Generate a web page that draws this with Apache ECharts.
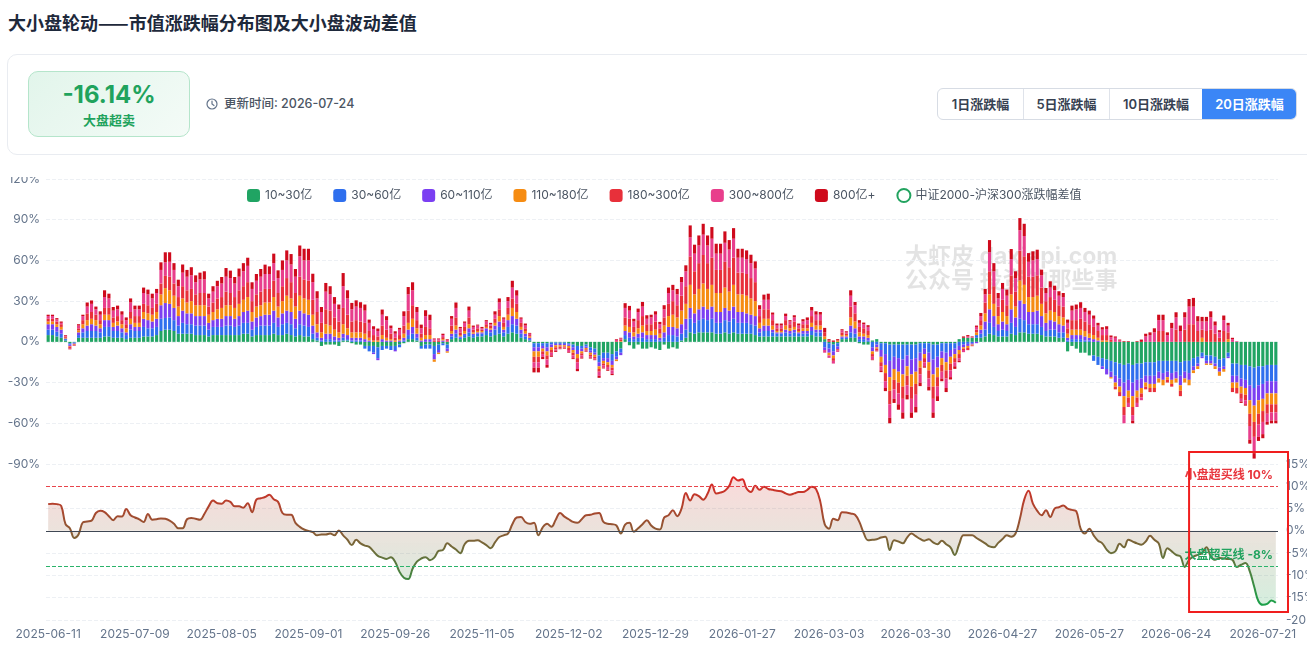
<!DOCTYPE html>
<html><head><meta charset="utf-8">
<script src="https://cdn.jsdelivr.net/npm/echarts@6/dist/echarts.min.js"></script>
<style>
html,body{margin:0;padding:0;background:#fff;width:1307px;height:650px;overflow:hidden;font-family:Inter,"Noto Sans CJK SC",sans-serif;}
.title{position:absolute;left:8px;top:10px;font-size:18px;font-weight:700;color:#1e293b;line-height:24px;font-family:"Noto Sans CJK SC",sans-serif;}
.card{position:absolute;left:7px;top:54px;width:1330px;height:101px;border:1px solid #e9ecf1;border-radius:10px;background:#fff;box-sizing:border-box;}
.badge{position:absolute;left:28px;top:71px;width:162px;height:66px;box-sizing:border-box;border:1px solid #b5e5cb;border-radius:10px;background:linear-gradient(135deg,#e2f5eb,#f4fbf7);text-align:center;}
.badge .v{font-size:24px;font-weight:700;color:#1fa35d;margin-top:9px;line-height:28px;}
.badge .t{font-size:13px;font-weight:700;color:#1fa35d;line-height:18px;margin-top:2px;font-family:"Noto Sans CJK SC",sans-serif;}
.upd{position:absolute;left:206px;top:95px;font-size:12.5px;color:#4b5563;line-height:18px;display:flex;align-items:center;font-weight:500;}
.upd svg{margin-right:6px;}
.btns{position:absolute;left:937px;top:88px;height:32px;display:flex;border:1px solid #d7dce4;border-radius:6px;overflow:hidden;box-sizing:border-box;}
.btn{height:30px;line-height:30px;text-align:center;font-size:13px;font-weight:600;color:#374151;border-left:1px solid #dfe3ea;box-sizing:border-box;font-family:Inter,"Noto Sans CJK SC",sans-serif;}
.btn:first-child{border-left:none;}
.btn.active{background:#3b86f6;color:#fff;border-left-color:#3b86f6;}
.wrap{position:absolute;left:0;top:177px;width:1307px;height:473px;overflow:hidden;}
#chart{position:absolute;left:0;top:-12px;width:1307px;height:485px;}
</style></head>
<body>
<div class="title">大小盘轮动——市值涨跌幅分布图及大小盘波动差值</div>
<div class="card"></div>
<div class="badge"><div class="v">-16.14%</div><div class="t">大盘超卖</div></div>
<div class="upd"><svg width="12" height="12" viewBox="0 0 12 12"><circle cx="6" cy="6" r="5" fill="none" stroke="#64748b" stroke-width="1.2"/><path d="M6 3v3l2 1.5" fill="none" stroke="#64748b" stroke-width="1.2" stroke-linecap="round"/></svg>更新时间: 2026-07-24</div>
<div class="btns"><div class="btn" style="width:85px">1日涨跌幅</div><div class="btn" style="width:86px">5日涨跌幅</div><div class="btn" style="width:93px">10日涨跌幅</div><div class="btn active" style="width:94px">20日涨跌幅</div></div>
<div class="wrap"><div id="chart"></div></div>
<script>
const tickDates = ['2025-06-11','2025-07-09','2025-08-05','2025-09-01','2025-09-26','2025-11-05','2025-12-02','2025-12-29','2026-01-27','2026-03-03','2026-03-30','2026-04-27','2026-05-27','2026-06-24','2026-07-21'];
const tailDates = ['2026-07-22','2026-07-23','2026-07-24'];
const seriesNames = ['10~30亿','30~60亿','60~110亿','110~180亿','180~300亿','300~800亿','800亿+'];
const seriesColors = ['#20a463','#2f6fee','#7b3ff2','#f68c12','#e8303a','#e83e8c','#cf0a1c'];
const lineName = '中证2000-沪深300涨跌幅差值';

const cap10_30 = [5,5,4,3,1,-1,-0.5,3,3,3,
3,3,3,4,4,3,3,3,2,3,
3,3,4,4,4,5,8,9,9,8,
6,6,6,6,5,5,5,4,5,5,
5,5,5,5,5,6,6,4,5,5,
5,5,6,5,5,6,5,4,5,4,
4,2,1,-3,-2,-2,-2,-3,1,1,
-1,-2,-2,-3,-3,-3,-4,-3,-3,-3,
-3,-2,-1,2,2,1,-3,-2,-2,-3,
-2,-1,-2,2,3,2,3,4,3,4,
4,5,4,5,6,4,6,7,6,3,
2,1,-1,-1,-1,-1,-0.5,-0.5,-0.5,-0.5,
-1,-2,-3,-3,-2,-4,-5,-10,-8,-8,
-9,-7,-5,2,-2.5,-5,-2,-5,-5,-4,
-5,-6,-2,-5,-4,-5,1,3,7,6,
7,7,7,7,6,6,7,6,7,6,
6,6,6,5,4,4,4,4,4,4,
4,4,4,4,4,4,5,4,4,2,
-1,-2,-1,2,2,3,3,-1,-2,-2,
1,2,-1,-1,-2,-2,-2,-2,-2,-2,
-2,-1,-1,-1,-2,-2,-1,-1,-1,-1,
2,3,3,3,3,3,4,6,5,4,
4,4,6,5,7,7,6,6,6,5,
4,4,4,3,3,-7,-3,-5,-8,-8,
-10,-10,-11,-12,-13,-14,-15,-16,-17,-16,
-17,-16,-16,-15,-15,-15,-14,-14,-14,-14,
-14,-15,-14,-14,-12,-11,-8,-10,-10,-11,
-13,-12,-8,-16,-16,-17,-17,-18,-19,-18,
-18,-17,-17,-17];

const cap30_60 = [4,4,3.5,3,1,-1,-0.5,2,4,5,
5,5,4,7,7,5,5,4,3,6,
5,5,7,6,6,6,9,8.6,9,8,
6,8,7,7,7,7,7,5,6,6,
6,7,7,6,7,8,8,5,6,7,
7,7,8,6,8,8,8,6,8,8,
7,4,2,1,2,2,1,1,2,1,
1,1,1,-2,-4,-5,-8,-3,-2,-3,
-3,-2,1,3,4,2,-2,-3,-3,-6,
-4,-1.5,-3,2,3,1,2,3,2,2,
2,3,3,4,5,3,5,6,6,3,
2,1,-3,-3,-2,-3,-1.5,-1,-1,-1,
-1,-2,-3,-2,-1.5,-2.5,-3,-5,-4,-4,
-5,-4,-3,3,3,2,3,3,2,2,
2,1,3,5,5,4,5,6,10,8,
9,10,9,10,8,8,9,9,10,8,
8,8,7,7,3,4,4,3,2,2,
3,2,3,2,2,2,3,3,3,-4,
-4,-5,-2.4,1,1,4,3,2,2,1,
-4,-2,-5,-8,-12,-9,-10,-11,-8,-11,
-10,-7,-4,-7,-11,-9,-6,-7,-5,-4,
-3,-2,-1.5,-1,2,3,5,8,6,4,
5,4,8,6,10,9,7,7,7,6,
4,5,5,4,4,1,2,2,2,1,
1,-4,-6,-6,-7,-8,-10,-11,-13,-12,
-13,-12,-11,-10,-10,-10,-8,-9,-8,-9,
-8,-10,-8,-9,-6,-5,-3,-4,-4,-5,
-6,-6,-3,-9,-9,-10,-11,-14,-15,-14,
-13,-12,-12,-12];

const cap60_110 = [4,4,3.5,3,0.5,-1,-0.5,2,3,4,
5,4,3,5,5,3,4,3,2,4,
3,3,6,6,5,6,10,11,10,9,
7,9,8,8,7,7,7,5,5,6,
6,7,7,6,7,8,9,6,7,7,
8,8,9,7,8,9,9,7,10,9,
9,6,4,2,4,4,3,2,3,3,
2,2,2,2,1,-1,-1.5,2,1,1,
-1,1,2,4,5,3,1,2,2,-4,
-2,1,-2,2,3,1,1,3,1,1,
1,2,2,3,4,2,5,6,5,3,
2,1,-3,-3,-2,-3,-2,-1,-1,-1,
-1,-2,-3,-2,-1,-1.5,-1.5,-3,-2,-3,
-3,-2,-1.8,3,4,2,3,4,3,3,
3,2,4,6,6,6,7,8,8,7,
8,9,8,9,8,8,9,8,9,8,
8,7,7,7,3,4,4,2,1,1,
2,2,2,1,2,2,3,2,2,-2,
-3,-3,-2,1,1,5,4,2,2,2,
-3,-2,-5,-8,-12,-9,-10,-11,-8,-11,
-10,-6,-4,-7,-11,-8,-5,-7,-5,-4,
-3,-2,-1.5,-1,-1,3,6,10,8,5,
6,5,10,7,13.5,12,9,9,10,8,
6,7,6,6,5,2,3,3,3,3,
2,2,1,-2,-4,-4,-5,-6,-10,-8,
-10,-8,-7,-5,-6,-6,-5,-5,-4,-5,
-5,-7,-5,-5,-3,-2,-1,-2,-2,-2,
-3,-2,-1,-5,-5,-6,-6,-11,-13,-11,
-11,-9,-9,-9];

const cap110_180 = [2,2,2,2,0.5,-0.5,-0.5,1.5,3,4,
4,4,3,4,4,3,3,3,3,4,
3,3,5,5,5,5,8,11,10,9,
7,9,8,9,8,8,8,6,6,7,
8,8,8,8,9,9,10,7,8,8,
9,9,10,8,9,11,10,9,11,11,
11,8,6,4,7,6,5,4,7,5,
4,4,4,4,2,1,1,3,2,1,
1,1,3,5,6,4,2,3,3,-1.7,
-1,1,-1,2,3,1,2,3,1,1,
1,1,1,2,4,2,4,6,5,2,
2,1,-4,-4,-2,-3,-2,-1.5,-1,-1,
-1.5,-2,-3,-1.5,-1,-1.5,-1.5,-2,-2,-2,
-2,-1.2,0.5,4,4,3,4,5,3,3,
4,3,5,8,9,8,10,11,17,14,
15,17,15,16,14,14,15,14,16,13,
13,13,12,11,4,5,5,3,1,1,
3,2,2,1,2,2,3,3,3,2,
-2,-2,1,1,1,6,5,3,2,2,
-2,-1,-4,-6,-10,-8,-8,-9,-7,-9,
-9,-5,-3,-6,-9,-7,-5,-6,-5,-3,
-3,-1,-1.5,-0.6,2,3,6,11,9,6,
7,6,11,8,14.7,14,11,11,11,9,
7,7,7,6,6,3,4,4,4,4,
3,3,2,1,1,-1,-3,-4,-8,-5,
-8,-5,-4,-3,-3,-3,-3,-4,-2,-3,
-3,-4,-3,-4,-2,-2,3,-1,-1,-2,
-3,-2,2,-4,-4,-5,-5,-10,-12,-10,
-9,-8,-8,-8];

const cap180_300 = [2,2,2,2,1,-1,-0.5,1.5,3,5,
5,4,3,5,5,4,4,3,3,5,
5,5,6,6,5,6,8,9,10,9,
7,9,9,9,8,9,9,6,7,8,
8,10,9,8,10,10,11,8,9,10,
10,10,12,10,11,13,12,10,14,14,
14,11,9,7,11,11,9,8,12,10,
8,9,8,8,5,4,3,7,6,4,
2,3,6,9,10,6,3,6,5,1,
1,1.5,0.5,4,6,2,3,5,2,2,
1,2,2,3,5,3,5,7,6,3,
2,1,-4,-4,-2,-3,-2,-1.5,-1,-0.5,
-1.5,-2,-3,-1.5,-1,-1,-1,-2,-1.5,-1.5,
-2,0.5,1,6,6,4,6,7,5,5,
6,4,6,9,10,9,11,13,21,17,
19,21,19,20,17,17,19,18,20,16,
16,16,15,14,5,7,7,4,2,2,
4,3,4,2,3,3,5,4,4,3,
1,-2,-1,2,1,8,6,4,4,3,
-2,-1,-3,-6,-10,-7,-8,-9,-7,-9,
-8,-5,-3,-6,-9,-7,-5,-6,-5,-3,
-3,-1,-1.6,-0.6,2,4,8,17,13,7,
9,8,14,11,22,21,15,15,15,12,
9,10,9,8,8,4,7,7,8,7,
7,6,5,4,4,1.5,-2,-3,-6,-4,
-6,-4,-3,-2,-3,-3,8,8,-2,-2,
9,-4,9,13,13,8,6,8,9,6,
3,8,5,-3,-4,-4,-4,-9,-11,-8,
-8,-7,-6,-6];

const cap300_800 = [2,2,1.5,1,0.5,-0.5,-0.3,2,3,5,
6,4,4,8,7,5,5,4,3,7,
5,5,8,8,7,8,10,10,11,10,
8,10,10,10,9,10,10,6,8,9,
10,11,11,10,10,11,12,9,10,11,
11,11,13,11,12,13,13,12,15,14,
15,13,10,8,13,12,10,9,16,12,
9,10,10,9,6,4.5,4,8,7,4,
3,4,7,12,11,6,4,8,6,1,
1,1.5,1,5,7,3,3,5,2,2,
1,2,1,3,5,3,5,8,6,3,
2,1,-4,-4,-2,-4,-2,-1,-0.5,-0.5,
-1.5,-2,-5,-1.5,-0.5,-1,-1,-3,-1.5,-2,
-2.5,1,1,7,6,4,6,7,4,5,
5,3,6,8,8,8,10,11,14,13,
13,15,13,14,12,12,14,13,14,11,
11,11,11,10,5,7,7,4,2,2,
3,2,3,2,2,3,4,4,4,-2,
-1.8,-2,-1,1.5,1,8,6,3,3,3,
-2,-0.5,-3,-5,-10,-7,-8,-10,-7,-10,
-9,-6,-3,-6,-10,-7,-5,-7,-5,-3,
-2,-1.6,1,0.5,2,3,6,14,11,6,
8,7,12,10,15,15,11,12,12,9,
6,7,7,7,7,4,7,8,8,7,
7,6,4,4,4.5,2,3,1,-6,-3,
-4,-3,-2,4,5,7,8,8,5,10,
9,8,9,13,13,7,6,7,9,6,
4,8,5,2,0.5,-2,-3,-10,-12,-9,
-9,-6,-6,-6];

const cap800plus = [1,1,1,1,0.5,-0.5,-0.2,1,1,3,
2.5,2,2.5,5,3.5,2.7,2.7,2.5,2,3,
2.7,2.7,4,3.5,3.5,3,5.6,7.4,7,5,
4.8,6,5,6,5,5,6,3.5,4,4,
4.8,6.4,5.5,4.8,6,6,6,4.9,5,5.7,
6.9,5.6,7,5.7,7,7.4,7.7,5.7,8,8.6,
8.6,6.2,5.3,3.7,6.4,6,5,3.5,9.7,6,
4.7,4.6,4.2,4.5,2.4,2,1.8,3.8,2.9,2,
1.8,1.3,3.5,5.4,5.9,3.7,2.7,4.3,4,0.5,
0.5,1,0.5,2,4,1,1,3,1,0.7,
1,1,1,2.5,3,1,3,5,4,1,
1.5,0.6,-3.5,-3.5,-1.7,-2,-1,-0.9,-0.4,-0.5,
-0.5,-0.7,-1.6,-0.8,-0.4,-0.8,-0.5,-1.5,-0.6,-0.8,
-1,0.5,0.5,3.5,3.5,2,2.5,3.4,2.6,2,
2.5,1.7,3,4,4,4,3.8,4.4,8.8,6.6,
7.4,8,7.4,8.6,7.3,7.3,8.4,7,7.8,6.6,
6.6,6.4,6.2,5.3,3,3.8,4.5,1.6,1.5,1.5,
1.8,1,1.6,1.5,1.7,2,2.7,2.5,2,3.3,
1,1,1,0.8,0.8,4,2.4,2,1.2,1.3,
-0.5,-0.5,-1.3,-2.3,-4,-3,-4,-4.6,-3.4,-4,
-4,-2.6,-1,-2.8,-4,-3.6,-2,-3,-1.7,-1.9,
-1,1,1,0.5,1,2.3,4,9,6,4,
4.4,4.5,7.4,5,9,9,6.4,6.7,6.9,4.2,
3.7,4.6,3.4,3.3,3,2.4,3.7,3.5,4.2,3,
3,2.4,2,1.8,2,1.2,1,0.7,0.5,0.5,
-2,0.5,1.7,2,2,3,4,4,2,4,
3.8,4,3.8,5.6,6.4,3.9,3.4,3.4,4.5,3,
1.6,3.4,2,1,0,-1,-1,-3,-4,-3,
-3,-2,-2,-2];

const diffValues = [6.0,6.1,6.0,5.6,1.5,0.6,-1.6,-0.8,1.9,2.1,
2.3,4.0,4.5,4.2,3.3,2.4,3.3,3.2,4.9,3.5,
3.0,2.6,2.0,3.8,2.5,2.6,2.8,2.7,2.3,1.6,
0.6,0.6,2.6,2.9,2.7,2.5,3.8,5.5,6.8,6.2,
6.1,6.8,6.5,5.5,5.5,5.2,6.2,4.2,7.0,7.3,
7.6,8.1,7.1,6.5,4.0,3.6,3.6,1.8,0.9,0.3,
0.0,-0.3,-1.0,-0.8,-0.8,-0.6,-1.0,0.1,-1.0,-2.0,
-3.2,-2.0,-2.8,-3.3,-3.6,-4.6,-5.6,-6.0,-6.3,-5.9,
-7.0,-9.2,-10.5,-10.8,-8.5,-6.9,-6.2,-5.9,-6.6,-6.0,
-4.5,-4.3,-2.8,-3.5,-4.2,-5.0,-3.0,-2.2,-2.2,-2.1,
-2.6,-3.2,-3.9,-2.6,-1.4,-1.0,-0.6,1.5,3.0,3.1,
2.0,1.6,1.8,-1.0,0.8,1.6,0.9,2.5,4.0,3.2,
2.6,2.0,1.8,2.6,3.5,3.6,3.9,4.0,2.0,1.6,
1.5,1.2,-0.6,1.4,1.8,-0.2,0.6,1.5,2.4,1.2,
0.5,0.3,3.0,3.5,4.6,3.3,5.0,8.5,6.8,8.2,
7.8,7.0,8.3,10.4,8.4,8.6,9.0,10.1,12.0,11.3,
11.6,9.5,8.7,10.1,9.2,9.9,9.4,9.2,9.0,8.9,
8.4,8.1,8.4,8.7,8.7,9.2,9.9,9.4,6.5,1.5,
0.5,2.7,2.4,4.2,4.1,3.9,3.6,2.0,-0.5,-2.1,
-2.0,-1.9,-1.5,-1.3,-4.3,-2.1,-2.4,-2.8,-1.5,-0.6,
-1.2,-1.8,-2.2,-1.9,-2.6,-3.0,-2.2,-3.0,-3.7,-5.4,
-3.0,-1.0,-1.0,-1.0,-1.6,-2.2,-2.8,-3.5,-3.7,-2.7,
-1.8,-1.0,-1.3,-0.6,2.7,7.0,9.0,6.1,4.5,3.5,
4.6,3.1,5.0,5.3,5.7,5.0,4.7,4.4,0.5,-0.6,
0.5,-1.0,-2.2,-2.8,-4.2,-5.0,-4.6,-2.9,-3.7,-2.0,
-2.4,-2.8,-3.1,-2.4,-1.1,-2.0,-2.8,-6.1,-3.9,-4.6,
-5.4,-5.7,-8.1,-6.5,-5.8,-5.4,-5.0,-3.7,-5.7,-6.5,
-6.1,-6.2,-6.3,-6.5,-8.1,-7.6,-7.2,-9.1,-12.5,-15.8,
-16.6,-16.4,-15.6,-16.14];

const barAxisTicks = {min:-90, max:120, interval:30};
const diffAxisTicks = {min:-20, max:15, interval:5};
const overboughtSmall = 10;
const overboughtLarge = -8;

function weekdaysAfter(dateStr, n){
  const out = [];
  const d = new Date(dateStr + 'T00:00:00Z');
  while (out.length < n) {
    d.setUTCDate(d.getUTCDate() + 1);
    const w = d.getUTCDay();
    if (w !== 0 && w !== 6) out.push(d.toISOString().slice(0, 10));
  }
  return out;
}
const categories = [];
for (let k = 0; k < tickDates.length - 1; k++) {
  categories.push(tickDates[k]);
  categories.push(...weekdaysAfter(tickDates[k], 19));
}
categories.push(tickDates[tickDates.length - 1], ...tailDates);

const barData = [cap10_30, cap30_60, cap60_110, cap110_180, cap180_300, cap300_800, cap800plus];
const FONT = 'Inter, "Noto Sans CJK SC", sans-serif';

const chart = echarts.init(document.getElementById('chart'));
const barSeries = seriesNames.map((n, i) => ({
  name: n, type: 'bar', stack: 'cap', xAxisIndex: 0, yAxisIndex: 0,
  data: barData[i], barWidth: '72%',
  itemStyle: { color: seriesColors[i] }
}));

const lineGrad = new echarts.graphic.LinearGradient(0, 0, 0, 1, [
  { offset: 0, color: '#e02424' }, { offset: 1, color: '#17a34a' }]);
const areaGrad = new echarts.graphic.LinearGradient(0, 0, 0, 1, [
  { offset: 0, color: 'rgba(224,36,36,0.24)' }, { offset: 1, color: 'rgba(23,163,74,0.26)' }]);

const watermark = [
  { type: 'text', left: 905, top: 81, z: 0, silent: true,
    style: { text: '大虾皮 daxiapi.com', fill: 'rgba(0,0,0,0.11)', fontSize: 23, fontWeight: 'bold', fontFamily: FONT } },
  { type: 'text', left: 905, top: 105, z: 0, silent: true,
    style: { text: '公众号 投资的那些事', fill: 'rgba(0,0,0,0.11)', fontSize: 23, fontWeight: 'bold', fontFamily: FONT } }
];

const option = {
  animation: false,
  textStyle: { fontFamily: FONT },
  legend: {
    top: 18, left: 242, itemWidth: 13, itemHeight: 13, itemGap: 21,
    textStyle: { color: '#4b5563', fontSize: 12, fontFamily: FONT },
    data: seriesNames.map(n => ({ name: n, icon: 'roundRect' })).concat([
      { name: lineName, icon: 'circle', itemStyle: { color: '#fff', borderColor: '#22a35f', borderWidth: 2 } }])
  },
  grid: [
    { left: 46, right: 29, top: 14, height: 285, outerBoundsMode: 'none', containLabel: false },
    { left: 46, right: 29, top: 299, height: 156, outerBoundsMode: 'none', containLabel: false }
  ],
  xAxis: [
    { type: 'category', gridIndex: 0, data: categories, show: false },
    { type: 'category', gridIndex: 1, data: categories,
      axisLine: { show: false }, axisTick: { show: false },
      axisLabel: { interval: 19, color: '#64748b', fontSize: 12, margin: 8, fontFamily: FONT } }
  ],
  yAxis: [
    { type: 'value', gridIndex: 0, min: barAxisTicks.min, max: barAxisTicks.max, interval: barAxisTicks.interval,
      axisLine: { show: false }, axisTick: { show: false },
      axisLabel: { formatter: '{value}%', color: '#64748b', fontSize: 12, margin: 6, fontFamily: FONT },
      splitLine: { lineStyle: { type: 'dashed', color: '#edf0f4' } } },
    { type: 'value', gridIndex: 1, position: 'right', min: diffAxisTicks.min, max: diffAxisTicks.max, interval: diffAxisTicks.interval,
      axisLine: { show: false }, axisTick: { show: false },
      axisLabel: { formatter: '{value}%', color: '#64748b', fontSize: 12, margin: 8, fontFamily: FONT },
      splitLine: { lineStyle: { type: 'dashed', color: '#edf0f4' } } }
  ],
  series: barSeries.concat([{
    name: lineName, type: 'line', xAxisIndex: 1, yAxisIndex: 1,
    data: diffValues, smooth: 0.4, symbol: 'none', showSymbol: false,
    itemStyle: { color: '#22a35f' },
    lineStyle: { width: 2, color: lineGrad },
    areaStyle: { color: areaGrad, origin: 0 },
    z: 3,
    markLine: {
      symbol: 'none', silent: true, animation: false,
      data: [
        { yAxis: overboughtSmall, lineStyle: { color: '#e8454c', type: 'dashed', width: 1 },
          label: { formatter: '小盘超买线 10%', position: 'insideEndTop', color: '#e8353d', fontWeight: 'bold', fontSize: 12, fontFamily: FONT } },
        { yAxis: overboughtLarge, lineStyle: { color: '#2bb36a', type: 'dashed', width: 1 },
          label: { formatter: '大盘超买线 -8%', position: 'insideEndTop', color: '#22a35f', fontWeight: 'bold', fontSize: 12, fontFamily: FONT } },
        { yAxis: 0, lineStyle: { color: '#3f4754', type: 'solid', width: 1.2 }, label: { show: false } }
      ]
    }
  }]),
  graphic: watermark
};
chart.setOption(option);

const boxTop = chart.convertToPixel({ xAxisIndex: 1, yAxisIndex: 1 }, [263, 17.7]);
const boxBottom = chart.convertToPixel({ xAxisIndex: 1, yAxisIndex: 1 }, [283, -18.2]);
const boxRight = chart.getWidth() - 19;
chart.setOption({
  graphic: watermark.concat([
    { type: 'rect', z: 10, silent: true,
      shape: { x: boxTop[0], y: boxTop[1], width: boxRight - boxTop[0], height: boxBottom[1] - boxTop[1] },
      style: { fill: 'none', stroke: '#f01e1e', lineWidth: 2 } }
  ])
});
</script>
</body></html>
